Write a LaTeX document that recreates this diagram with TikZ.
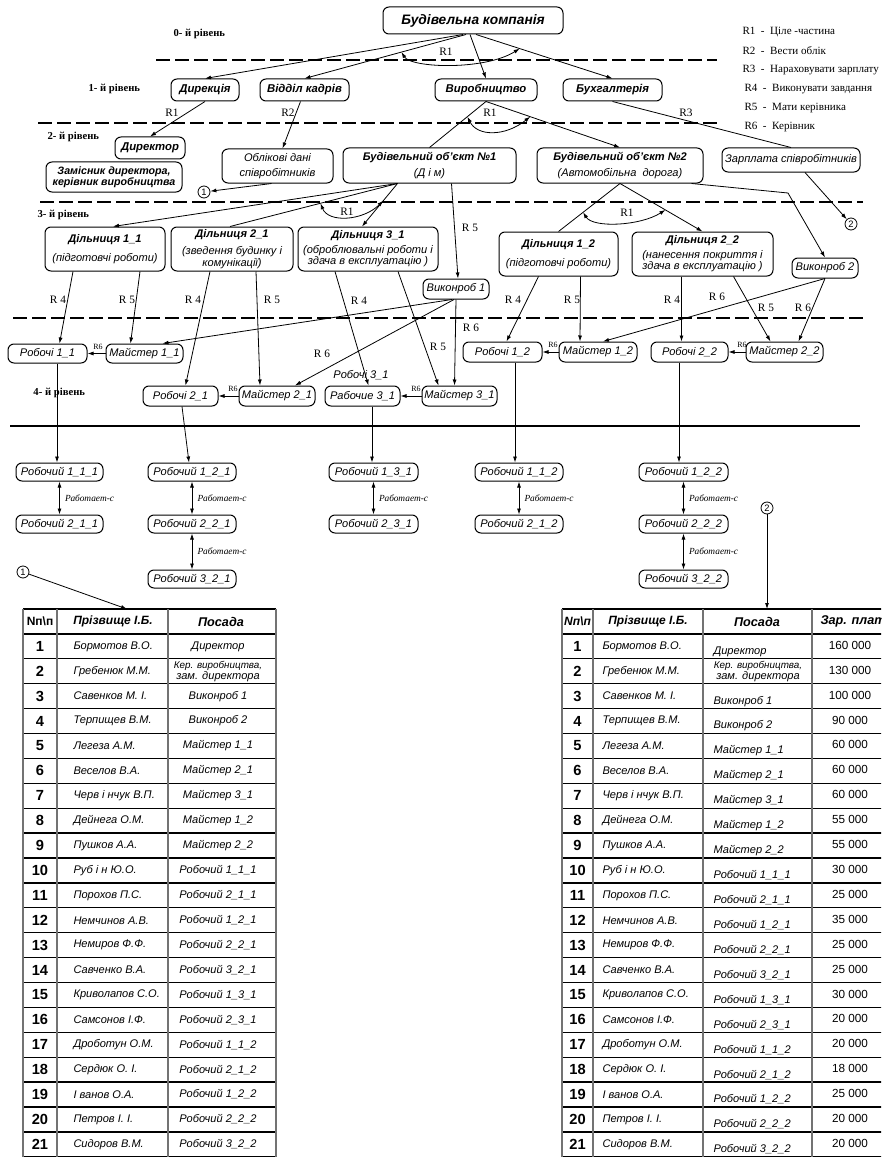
\documentclass[tikz,border=0pt]{standalone}
\usepackage{fontspec}
\setmainfont{Liberation Serif}
\setsansfont{Liberation Sans}
\usetikzlibrary{arrows.meta,calc}

\newcommand\kerzam{\fontsize{7.4}{6.8}\selectfont Кер. виробництва,\\зам. директора}
\newcommand\stafflist{1/Бормотов В.О./Директор/160 000,
 2/Гребенюк М.М./\kerzam/130 000,
 3/Савенков М. І./Виконроб 1/100 000,
 4/Терпищев В.М./Виконроб 2/90 000,
 5/Легеза А.М./Майстер 1\_1/60 000,
 6/Веселов В.А./Майстер 2\_1/60 000,
 7/Черв і нчук В.П./Майстер 3\_1/60 000,
 8/Дейнега О.М./Майстер 1\_2/55 000,
 9/Пушков А.А./Майстер 2\_2/55 000,
 10/Руб і н Ю.О./Робочий 1\_1\_1/30 000,
 11/Порохов П.С./Робочий 2\_1\_1/25 000,
 12/Немчинов А.В./Робочий 1\_2\_1/35 000,
 13/Немиров Ф.Ф./Робочий 2\_2\_1/25 000,
 14/Савченко В.А./Робочий 3\_2\_1/25 000,
 15/Криволапов С.О./Робочий 1\_3\_1/30 000,
 16/Самсонов І.Ф./Робочий 2\_3\_1/20 000,
 17/Дроботун О.М./Робочий 1\_1\_2/20 000,
 18/Сердюк О. І./Робочий 2\_1\_2/18 000,
 19/І ванов О.А./Робочий 1\_2\_2/25 000,
 20/Петров І. І./Робочий 2\_2\_2/20 000,
 21/Сидоров В.М./Робочий 3\_2\_2/20 000}

\tikzset{every picture/.style={line width=0.75pt}}
\tikzset{
  corners/.style args={#1/#2/#3/#4}{at={({(#1+#3)/2},{(#2+#4)/2})}, minimum width={(#3-#1)*0.75pt}, minimum height={(#4-#2)*0.75pt}},
  unitbox/.style={draw, rounded corners=4.5pt, inner sep=0pt, align=center, font=\sffamily\itshape\fontsize{8.3}{7.6}\selectfont},
  unitb/.style={unitbox, font=\sffamily\bfseries\itshape\fontsize{8.5}{7.8}\selectfont},
  levname/.style={anchor=west, inner sep=0pt, font=\bfseries\fontsize{8}{9}\selectfont},
  rel/.style={inner sep=0pt, font=\fontsize{8.5}{9}\selectfont},
  relsmall/.style={inner sep=0pt, font=\fontsize{6}{6}\selectfont},
  workswith/.style={inner sep=0pt, font=\itshape\fontsize{7}{7}\selectfont},
  legendtxt/.style={anchor=west, inner sep=0pt, font=\fontsize{8.3}{9}\selectfont},
  levelline/.style={line width=1.8pt, dash pattern=on 10.5pt off 3.75pt},
  link/.style={-{Latex[length=4.5pt,width=3pt]}, line width=0.6pt},
  plainlink/.style={line width=0.6pt},
  both/.style={{Latex[length=4.5pt,width=3pt]}-{Latex[length=4.5pt,width=3pt]}, line width=0.6pt},
  circref/.style={draw, circle, inner sep=0pt, minimum size=9pt, line width=0.6pt, font=\sffamily\fontsize{7}{7}\selectfont},
  cell/.style={inner sep=0pt, font=\sffamily\itshape\fontsize{8.3}{8}\selectfont},
  num/.style={inner sep=0pt, font=\sffamily\bfseries\fontsize{11}{11}\selectfont},
  head/.style={inner sep=0pt, font=\sffamily\bfseries\itshape\fontsize{9}{9}\selectfont},
}

\begin{document}
\begin{tikzpicture}[x=0.75pt,y=0.75pt,yscale=-1,xscale=1]
\useasboundingbox (0,0) rectangle (881,1159);

%Level lines
\draw[levelline] (156,60) -- (717,60);
\draw[levelline] (38,123) -- (717,123);
\draw[levelline] (40,202) -- (863,202);
\draw[levelline] (13,318) -- (867,318);
\draw[line width=2.2pt] (10,426) -- (860,426);

% Text Node
\node[levname] (lv0) at (173,34) {0- й рівень};
\node[levname] (lv1) at (88,89) {1- й рівень};
\node[levname] (lv2) at (47,137) {2- й рівень};
\node[levname] (lv3) at (37,215) {3- й рівень};
\node[levname] (lv4) at (33,393) {4- й рівень};

% Legend
\node[legendtxt] (lg1) at (742,32) {R1~~-~~Ціле -частина};
\node[legendtxt] (lg2) at (742,51) {R2~~-~~Вести облік};
\node[legendtxt] (lg3) at (742,70) {R3~~-~~Нараховувати зарплату};
\node[legendtxt] (lg4) at (744,89) {R4~~-~~Виконувати завдання};
\node[legendtxt] (lg5) at (744,108) {R5~~-~~Мати керівника};
\node[legendtxt] (lg6) at (744,127) {R6~~-~~Керівник};

%Flowchart: Alternative Process
\node[unitb, font=\sffamily\bfseries\itshape\fontsize{10.3}{11}\selectfont, corners=383/7/563/34] (bk) {Будівельна компанія};
\node[unitb, corners=171/79/239/101] (dyr) {Дирекція};
\node[unitb, corners=260/79/349/101] (kadry) {Відділ кадрів};
\node[unitb, corners=435/79/537/101] (vyr) {Виробництво};
\node[unitb, corners=563/79/662/101] (bukh) {Бухгалтерія};

\node[unitb, corners=115/137/185/159] (dyrektor) {Директор};
\node[unitb, font=\sffamily\bfseries\itshape\fontsize{8}{7.4}\selectfont, corners=46/162/182/192] (zast) {Замісник директора,\\керівник виробництва};
\node[unitbox, corners=222/149/333/183] (oblik) {Облікові дані\\[4pt]співробітників};
\node[unitbox, corners=343/148/516/183] (obj1) {{\bfseries Будівельний об'єкт №1}\\[3pt](Д і м)};
\node[unitbox, corners=537/148/703/183] (obj2) {{\bfseries Будівельний об'єкт №2}\\[3pt](Автомобільна \ дорога)};
\node[unitbox, corners=722/148/860/172] (zarp) {Зарплата співробітників};
\node[circref] (c1) at (204,192) {1};
\node[circref] (c2) at (851,224) {2};

\node[unitbox, corners=45/227/165/271] (dil11) {{\bfseries Дільниця 1\_1}\\[5pt](підготовчі роботи)};
\node[unitbox, corners=171/227/293/271] (dil21) {{\bfseries Дільниця 2\_1}\\[4pt](зведення будинку і\\комунікації)};
\node[unitbox, corners=298/227/438/271] (dil31) {{\bfseries Дільниця 3\_1}\\[2pt](оброблювальні роботи і\\здача в експлуатацію )};
\node[unitbox, corners=499/232/618/276] (dil12) {{\bfseries Дільниця 1\_2}\\[5pt](підготовчі роботи)};
\node[unitbox, corners=632/232/773/276] (dil22) {{\bfseries Дільниця 2\_2}\\[2pt](нанесення покриття і\\здача в експлуатацію )};
\node[unitbox, corners=423/279/489/299] (vyk1) {Виконроб 1};
\node[unitbox, corners=792/258/858/278] (vyk2) {Виконроб 2};

\node[unitbox, corners=8/344/87/363] (rob11) {Робочі 1\_1};
\node[unitbox, corners=106/344/183/363] (mst11) {Майстер 1\_1};
\node[unitbox, corners=143/386/218/406] (rob21) {Робочі 2\_1};
\node[unitbox, corners=239/386/315/406] (mst21) {Майстер 2\_1};
\node[unitbox, corners=325/386/400/406] (rab31) {Рабочие 3\_1};
\node[unitbox, corners=422/386/497/406] (mst31) {Майстер 3\_1};
\node[unitbox, corners=463/342/542/362] (rob12) {Робочі 1\_2};
\node[unitbox, corners=559/342/637/362] (mst12) {Майстер 1\_2};
\node[unitbox, corners=651/342/728/362] (rob22) {Робочі 2\_2};
\node[unitbox, corners=746/342/823/362] (mst22) {Майстер 2\_2};
\node[inner sep=0pt, font=\sffamily\itshape\fontsize{8.3}{8}\selectfont] (rob31txt) at (361,375) {Робочі 3\_1};

\node[unitbox, corners=16/463/103/481] (r111) {Робочий 1\_1\_1};
\node[unitbox, corners=16/515/103/533] (r211) {Робочий 2\_1\_1};
\node[unitbox, corners=148/463/236/481] (r121) {Робочий 1\_2\_1};
\node[unitbox, corners=148/515/236/533] (r221) {Робочий 2\_2\_1};
\node[unitbox, corners=148/570/236/588] (r321) {Робочий 3\_2\_1};
\node[unitbox, corners=329/463/418/481] (r131) {Робочий 1\_3\_1};
\node[unitbox, corners=329/515/418/533] (r231) {Робочий 2\_3\_1};
\node[unitbox, corners=475/463/563/481] (r112) {Робочий 1\_1\_2};
\node[unitbox, corners=475/515/563/533] (r212) {Робочий 2\_1\_2};
\node[unitbox, corners=639/463/728/481] (r122) {Робочий 1\_2\_2};
\node[unitbox, corners=639/515/728/533] (r222) {Робочий 2\_2\_2};
\node[unitbox, corners=639/570/728/588] (r322) {Робочий 3\_2\_2};

\node[circref] (c1b) at (23,572) {1};
\node[circref] (c2b) at (767,508) {2};
\coordinate (t1top) at (127,609);
\coordinate (t2top) at (767,609);
\coordinate (kink) at (788,193);

%Straight Lines
\draw[link] ($(bk.south)+(-10,0)$) -- (dyr.north);
\draw[link] ($(bk.south)+(-7,0)$) -- coordinate[pos=0.4] (a1l) (kadry.north);
\draw[link] ($(bk.south)+(-3,0)$) -- (vyr.north);
\draw[link] ($(bk.south)+(3,0)$) -- coordinate[pos=0.32] (a1r) (bukh.north);
\draw[both] (a1l) .. controls +(10,16) and +(-35,22) .. (a1r);

\draw[link] (dyr.south) -- (dyrektor.north);
\draw[link] ($(kadry.south)+(-4,0)$) -- ($(oblik.north)+(5,0)$);
\draw[plainlink] (vyr.south) -- coordinate[pos=0.33] (a2l) (obj1.north);
\draw[link] (vyr.south) -- coordinate[pos=0.33] (a2r) (obj2.north);
\draw[both] (a2l) .. controls +(10,20) and +(-25,20) .. (a2r);
\draw[plainlink] (bukh.south) -- (zarp.north);

\draw[link] ($(oblik.south)+(-6,0)$) -- (c1);
\draw[link] ($(zarp.south)+(14,0)$) -- (c2);

\draw[link] ($(obj1.south)+(-32,0)$) -- ($(dil11.north)+(8,0)$);
\draw[plainlink] ($(obj1.south)+(-32,0)$) -- coordinate[pos=0.46] (a3l) ($(dil21.north)+(-2,0)$);
\draw[link] ($(obj1.south)+(-32,0)$) -- coordinate[pos=0.4] (a3r) ($(dil31.north)+(-6,0)$);
\draw[both] (a3l) .. controls +(8,20) and +(-20,20) .. (a3r);
\draw[link] ($(obj1.south)+(22,0)$) -- ($(vyk1.north)+(2,0)$);

\draw[plainlink] (obj2.south) -- coordinate[pos=0.6] (a4l) (dil12.north);
\draw[link] (obj2.south) -- coordinate[pos=0.55] (a4r) (dil22.north);
\draw[both] (a4l) .. controls +(10,16) and +(-25,16) .. (a4r);
\draw[link] ($(obj2.south east)+(-12,0)$) -- (kink) -- (vyk2.north);

\draw[link] ($(dil11.south)+(-32,0)$) -- ($(rob11.north)+(12,0)$);
\draw[link] ($(dil11.south)+(35,0)$) -- ($(mst11.north)+(-14,0)$);
\draw[link] ($(dil21.south)+(-22,0)$) -- ($(rob21.north)+(5,0)$);
\draw[link] ($(dil21.south)+(24,0)$) -- ($(mst21.north)+(-17,0)$);
\draw[link] ($(dil31.south)+(-33,0)$) -- ($(rab31.north)+(6,0)$);
\draw[link] ($(dil31.south)+(30,0)$) -- ($(mst31.north)+(-21,0)$);
\draw[link] ($(vyk1.south)+(-4,0)$) -- ($(mst11.north)+(18,0)$);
\draw[link] ($(vyk1.south)+(-2,0)$) -- ($(mst21.north)+(18,0)$);
\draw[link] (vyk1.south) -- ($(mst31.north)+(-5,0)$);
\draw[link] ($(dil12.south)+(-20,0)$) -- ($(rob12.north)+(4,0)$);
\draw[link] ($(dil12.south)+(22,0)$) -- ($(mst12.north)+(-18,0)$);
\draw[link] ($(dil22.south)+(-21,0)$) -- ($(rob22.north)+(-8,0)$);
\draw[link] ($(dil22.south)+(31,0)$) -- ($(mst22.north)+(-14,0)$);
\draw[link] (vyk2.south) -- ($(mst12.north)+(5,0)$);
\draw[link] (vyk2.south) -- ($(mst22.north)+(14,0)$);

\draw[link] (mst11.west) -- (rob11.east);
\draw[link] (mst21.west) -- (rob21.east);
\draw[link] (mst31.west) -- (rab31.east);
\draw[link] (mst12.west) -- (rob12.east);
\draw[link] (mst22.west) -- (rob22.east);

\draw[link] ($(rob11.south)+(9.5,0)$) -- ($(r111.north)+(-2.5,0)$);
\draw[link] ($(rob21.south)+(1.5,0)$) -- ($(r121.north)+(-3,0)$);
\draw[link] ($(rab31.south)+(9.5,0)$) -- ($(r131.north)+(-1.5,0)$);
\draw[link] ($(rob12.south)+(12.5,0)$) -- ($(r112.north)+(-4,0)$);
\draw[link] ($(rob22.south)+(-10.5,0)$) -- ($(r122.north)+(-4.5,0)$);

\draw[both] (r111.south) -- (r211.north) node[workswith, midway, right=4pt] (w1) {Работает-с};
\draw[both] (r121.south) -- (r221.north) node[workswith, midway, right=4pt] (w2) {Работает-с};
\draw[both] (r221.south) -- (r321.north) node[workswith, midway, right=4pt] (w3) {Работает-с};
\draw[both] (r131.south) -- (r231.north) node[workswith, midway, right=4pt] (w4) {Работает-с};
\draw[both] (r112.south) -- (r212.north) node[workswith, midway, right=4pt] (w5) {Работает-с};
\draw[both] (r122.south) -- (r222.north) node[workswith, midway, right=4pt] (w6) {Работает-с};
\draw[both] (r222.south) -- (r322.north) node[workswith, midway, right=4pt] (w7) {Работает-с};

\draw[link] (c1b) -- (t1top);
\draw[link] (c2b) -- (t2top);

% Text Node
\node[rel] (q1) at (446,52) {R1};
\node[rel] (q2) at (172,113) {R1};
\node[rel] (q3) at (288,113) {R2};
\node[rel] (q4) at (490,113) {R1};
\node[rel] (q5) at (686,113) {R3};
\node[rel] (q6) at (347,212) {R1};
\node[rel] (q7) at (627,213) {R1};
\node[rel] (q8) at (58,300) {R 4};
\node[rel] (q9) at (127,300) {R 5};
\node[rel] (q10) at (193,300) {R 4};
\node[rel] (q11) at (272,300) {R 5};
\node[rel] (q12) at (359,301) {R 4};
\node[rel] (q13) at (470,228) {R 5};
\node[rel] (q14) at (438,347) {R 5};
\node[rel] (q15) at (471,328) {R 6};
\node[rel] (q16) at (322,354) {R 6};
\node[rel] (q17) at (513,300) {R 4};
\node[rel] (q18) at (572,300) {R 5};
\node[rel] (q19) at (672,300) {R 4};
\node[rel] (q20) at (717,297) {R 6};
\node[rel] (q21) at (766,308) {R 5};
\node[rel] (q22) at (803,308) {R 6};
\node[relsmall] (s1) at (98,347) {R6};
\node[relsmall] (s2) at (233,389) {R6};
\node[relsmall] (s3) at (416,389) {R6};
\node[relsmall] (s4) at (553,345) {R6};
\node[relsmall] (s5) at (742,345) {R6};

%Table 1
\foreach \k in {0,...,22}
  \draw[line width=1pt] (23,{609+24.9*\k}) -- (276,{609+24.9*\k});
\foreach \xx in {23,57,168,276}
  \draw[line width=0.8pt, black!55] (\xx,609) -- (\xx,1157);
\node[head, font=\sffamily\bfseries\fontsize{9}{9}\selectfont] (t1hn) at (40,621.5) {Nп\textbackslash п};
\node[head] (t1hf) at (113,621.5) {Прізвище І.Б.};
\node[head, font=\sffamily\bfseries\itshape\fontsize{9.5}{9.5}\selectfont] (t1hp) at (221,621.5) {Посада};
\foreach \n/\nm/\pos/\sal in \stafflist {
  \pgfmathsetmacro\yy{621.45+24.9*\n}
  \node[num] (t1n\n) at (40,\yy) {\n};
  \node[cell, anchor=west] (t1f\n) at (73,\yy) {\nm};
  \node[cell, align=center] (t1p\n) at (218,\yy) {\pos};
}

%Table 2
\begin{scope}
\clip (540,600) rectangle (881,1159);
\foreach \k in {0,...,22}
  \draw[line width=1pt] (562,{609+24.9*\k}) -- (900,{609+24.9*\k});
\foreach \xx in {562,593,703,812}
  \draw[line width=0.8pt, black!55] (\xx,609) -- (\xx,1157);
\node[head] (t2hn) at (577.5,621.5) {Nп\textbackslash п};
\node[head] (t2hf) at (648,621.5) {Прізвище І.Б.};
\node[head, font=\sffamily\bfseries\itshape\fontsize{9.5}{9.5}\selectfont] (t2hp) at (757,621.5) {Посада};
\node[head, anchor=west, font=\sffamily\bfseries\itshape\fontsize{9.5}{9.5}\selectfont] (t2hs) at (820,621.5) {Зар. плата};
\foreach \n/\nm/\pos/\sal in \stafflist {
  \pgfmathsetmacro\yy{621.45+24.9*\n}
  \node[num] (t2n\n) at (577.5,\yy) {\n};
  \node[cell, anchor=west] (t2f\n) at (602,\yy) {\nm};
  \ifnum\n=2
    \node[cell, align=center] (t2p\n) at (758,\yy) {\pos};
  \else
    \node[cell, anchor=west] (t2p\n) at (713,{\yy+5}) {\pos};
  \fi
  \node[cell, font=\sffamily\fontsize{8.8}{9}\selectfont] (t2s\n) at (850,{\yy-1}) {\sal};
}
\end{scope}

\end{tikzpicture}
\end{document}
